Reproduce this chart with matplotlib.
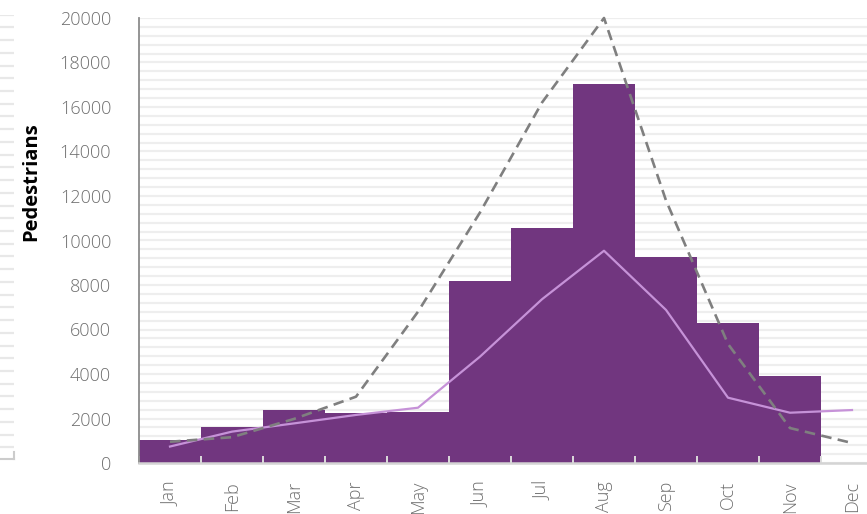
import numpy as np
import matplotlib
matplotlib.use("Agg")
import matplotlib.pyplot as plt
from matplotlib.ticker import MultipleLocator

months = ["Jan", "Feb", "Mar", "Apr", "May", "Jun", "Jul", "Aug", "Sep", "Oct", "Nov", "Dec"]
# monthly counts (bars stop at Nov)
bar_values = [1030, 1620, 2370, 2230, 2280, 8180, 10550, 17030, 9270, 6300, 3910]
# solid lavender line
line_values = [740, 1410, 1780, 2160, 2485, 4780, 7360, 9540, 6880, 2935, 2260, 2380]
# dashed grey line
dashed_values = [955, 1160, 1980, 2980, 6800, 11260, 16200, 20000, 11800, 5350, 1570, 900]

BAR_COLOR = "#71367f"
LINE_COLOR = "#c692d8"
DASH_COLOR = "#7f7f7f"
GRID_COLOR = "#eeeeee"
TEXT_COLOR = "#6e6e6e"

W, H = 867, 514
fig = plt.figure(figsize=(W / 100, H / 100), dpi=100)

# leftover strip of grid lines at the far left edge
axl = fig.add_axes([0, (514 - 459.3) / H, 14 / W, 444.6 / H])
axl.set_ylim(-0.94, 34)
axl.set_xlim(0, 1)
axl.set_yticks(np.arange(0, 35))
axl.yaxis.grid(True, color="#e8e8e8", linewidth=1.6)
axl.tick_params(left=False, labelleft=False, bottom=False, labelbottom=False)
for s in ["left", "top", "right"]:
    axl.spines[s].set_visible(False)
axl.spines["bottom"].set_color("#cccccc")
axl.spines["bottom"].set_linewidth(1.5)
axl.plot([1, 1], [-0.94, -0.4], color="#cccccc", linewidth=1.5, clip_on=False)

pos = [139 / W, (514 - 463) / H, 744 / W, 445 / H]

# background axes: only the horizontal grid, so it stays behind the bars
axg = fig.add_axes(pos)
axg.set_ylim(0, 20000)
axg.yaxis.set_major_locator(MultipleLocator(2000))
axg.yaxis.set_minor_locator(MultipleLocator(400))
axg.yaxis.grid(True, which="both", color=GRID_COLOR, linewidth=1.6)
axg.tick_params(which="both", left=False, labelleft=False, bottom=False, labelbottom=False)
for s in axg.spines.values():
    s.set_visible(False)

# main chart on top, transparent background
ax = fig.add_axes(pos)
ax.patch.set_alpha(0)
x = np.arange(len(months))

ax.bar(x[:len(bar_values)], bar_values, width=1.0, color=BAR_COLOR,
       linewidth=0, antialiased=False, zorder=1)
ax.plot(x, line_values, color=LINE_COLOR, linewidth=1.6, zorder=3)
ax.plot(x, dashed_values, color=DASH_COLOR, linewidth=1.9,
        linestyle=(0, (4, 2.4)), zorder=4, clip_on=False)

ax.set_xlim(-0.5, 11.5)
ax.set_ylim(0, 20000)
ax.yaxis.set_major_locator(MultipleLocator(2000))

ax.set_xticks(x)
ax.set_xticklabels(months, rotation=90, fontsize=13, color=TEXT_COLOR,
                   family="Open Sans", fontweight="light")
ax.set_xticks(np.arange(-0.5, 12, 1), minor=True)
ax.tick_params(axis="x", which="major", length=0, pad=13)
ax.tick_params(axis="x", which="minor", length=5, direction="in",
               color="#dcdcdc", width=1.4)
ax.tick_params(axis="y", which="both", length=0, pad=20)
for lab in ax.get_yticklabels():
    lab.set_fontsize(13)
    lab.set_color(TEXT_COLOR)
    lab.set_family("Open Sans")
    lab.set_fontweight("light")

for s in ["top", "right"]:
    ax.spines[s].set_visible(False)
ax.spines["left"].set_color("#8c8c8c")
ax.spines["left"].set_linewidth(1.3)
ax.spines["bottom"].set_color("#d4d4d4")
ax.spines["bottom"].set_linewidth(1.8)

ax.set_ylabel("Pedestrians", fontsize=14.5, fontweight="bold", color="black",
              family="Open Sans")
ax.yaxis.set_label_coords(-0.131, 0.632)

fig.savefig("out.png", dpi=100)
